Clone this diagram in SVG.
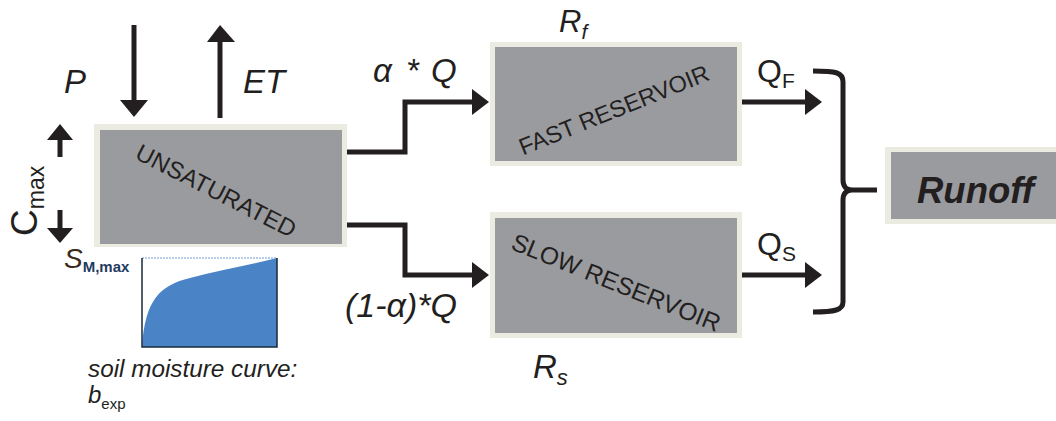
<svg xmlns="http://www.w3.org/2000/svg" width="1056" height="421" viewBox="0 0 1056 421">
<style>
.outer{fill:#ecebe1}
.inner{fill:#9a9b9f}
.lbl{font-family:"Liberation Sans",Arial,sans-serif;font-style:italic;fill:#231f20}
.box{font-family:"Liberation Sans",Arial,sans-serif;fill:#231f20}
.ln{fill:none;stroke:#231f20;stroke-width:5}
.hd{fill:#231f20}
</style>
<rect width="1056" height="421" fill="#ffffff"/>
<g id="unsaturated">
<rect class="outer" x="94" y="124" width="253" height="123"/>
<rect class="inner" x="100" y="130" width="242" height="114"/>
<text class="box" font-size="24" transform="translate(216,191) rotate(27)" text-anchor="middle" y="8">UNSATURATED</text>
</g>
<g id="fast">
<rect class="outer" x="490" y="42" width="252" height="124"/>
<rect class="inner" x="495" y="47" width="242" height="114"/>
<text class="box" font-size="23.5" transform="translate(614,110) rotate(-22)" text-anchor="middle" y="8">FAST RESERVOIR</text>
<text class="lbl" x="559" y="32" font-size="31">R<tspan font-size="21" dy="7">f</tspan></text>
</g>
<g id="slow">
<rect class="outer" x="490" y="212" width="252" height="126"/>
<rect class="inner" x="495" y="218" width="242" height="115"/>
<text class="box" font-size="24.5" transform="translate(616,283) rotate(22)" text-anchor="middle" y="8">SLOW RESERVOIR</text>
<text class="lbl" x="533" y="378" font-size="33">R<tspan font-size="22" dy="7">s</tspan></text>
</g>
<g id="runoff">
<rect class="outer" x="885" y="147" width="180" height="77"/>
<rect class="inner" x="891" y="152" width="180" height="67"/>
<text x="917" y="203" font-family="Liberation Sans,Arial,sans-serif" font-weight="bold" font-style="italic" font-size="36.5" fill="#231f20">Runoff</text>
</g>
<g id="soil-curve">
<path d="M142,347 C145,300 160,285 190,278 C220,270 250,265 277,258 L277,347 Z" fill="#4a84c6"/>
<line x1="142" y1="258" x2="277" y2="258" stroke="#6f9bd0" stroke-width="1" stroke-dasharray="2,1"/>
<polyline points="142,258 142,347 277,347 277,258" fill="none" stroke="#1a2a3a" stroke-width="1.5"/>
<text x="64" y="268" font-family="Liberation Sans,Arial,sans-serif" font-style="italic" font-size="28" fill="#3a2a1a">S<tspan font-size="15" font-weight="bold" font-style="normal" dy="4" fill="#1f3a5f">M,max</tspan></text>
<text class="lbl" x="88" y="377" font-size="24.3">soil moisture curve:</text>
<text class="lbl" x="88" y="403" font-size="24">b<tspan font-size="15" font-style="normal" dy="6">exp</tspan></text>
</g>
<g id="labels">
<text class="lbl" x="64" y="93" font-size="33">P</text>
<text class="lbl" x="243" y="93" font-size="33">ET</text>
<text class="lbl" y="82" font-size="33"><tspan x="373">α</tspan><tspan x="406">*</tspan><tspan x="431">Q</tspan></text>
<text class="lbl" x="457" y="317" font-size="34" text-anchor="end">(1-α)*Q</text>
<text x="757" y="82" font-family="Liberation Sans,Arial,sans-serif" font-size="32" fill="#231f20">Q<tspan font-size="21" dy="6">F</tspan></text>
<text x="757" y="255" font-family="Liberation Sans,Arial,sans-serif" font-size="32" fill="#231f20">Q<tspan font-size="21" dy="6">S</tspan></text>
<text transform="translate(37,236) rotate(-90)" font-family="Liberation Sans,Arial,sans-serif" font-size="37" fill="#231f20">C<tspan font-size="23" dy="7">max</tspan></text>
</g>
<g id="connectors">
<line class="ln" x1="134" y1="25" x2="134" y2="102"/>
<polygon class="hd" points="120,100 148,100 134,117"/>
<line class="ln" x1="220" y1="118" x2="220" y2="40"/>
<polygon class="hd" points="207,42 235,42 220,25"/>
<line class="ln" x1="60" y1="157" x2="60" y2="138"/>
<polygon class="hd" points="47,140 73,140 60,124"/>
<line class="ln" x1="60" y1="210" x2="60" y2="230"/>
<polygon class="hd" points="47,228 73,228 60,243"/>
<polyline class="ln" points="347,152 405,152 405,102 474,102"/>
<polygon class="hd" points="472,89 489,102 472,115"/>
<polyline class="ln" points="347,225 405,225 405,275 474,275"/>
<polygon class="hd" points="472,262 489,275 472,288"/>
<line class="ln" x1="742" y1="102" x2="807" y2="102"/>
<polygon class="hd" points="805,89 822,102 805,115"/>
<line class="ln" x1="742" y1="275" x2="807" y2="275"/>
<polygon class="hd" points="805,262 822,275 805,288"/>
<path class="ln" d="M813,71 C835,71 843,72 843,82 L843,180 C843,186 846,190 852,190 L877,190 M852,190 C846,190 843,194 843,200 L843,302 C843,310 835,312 813,312"/>
</g>
</svg>
